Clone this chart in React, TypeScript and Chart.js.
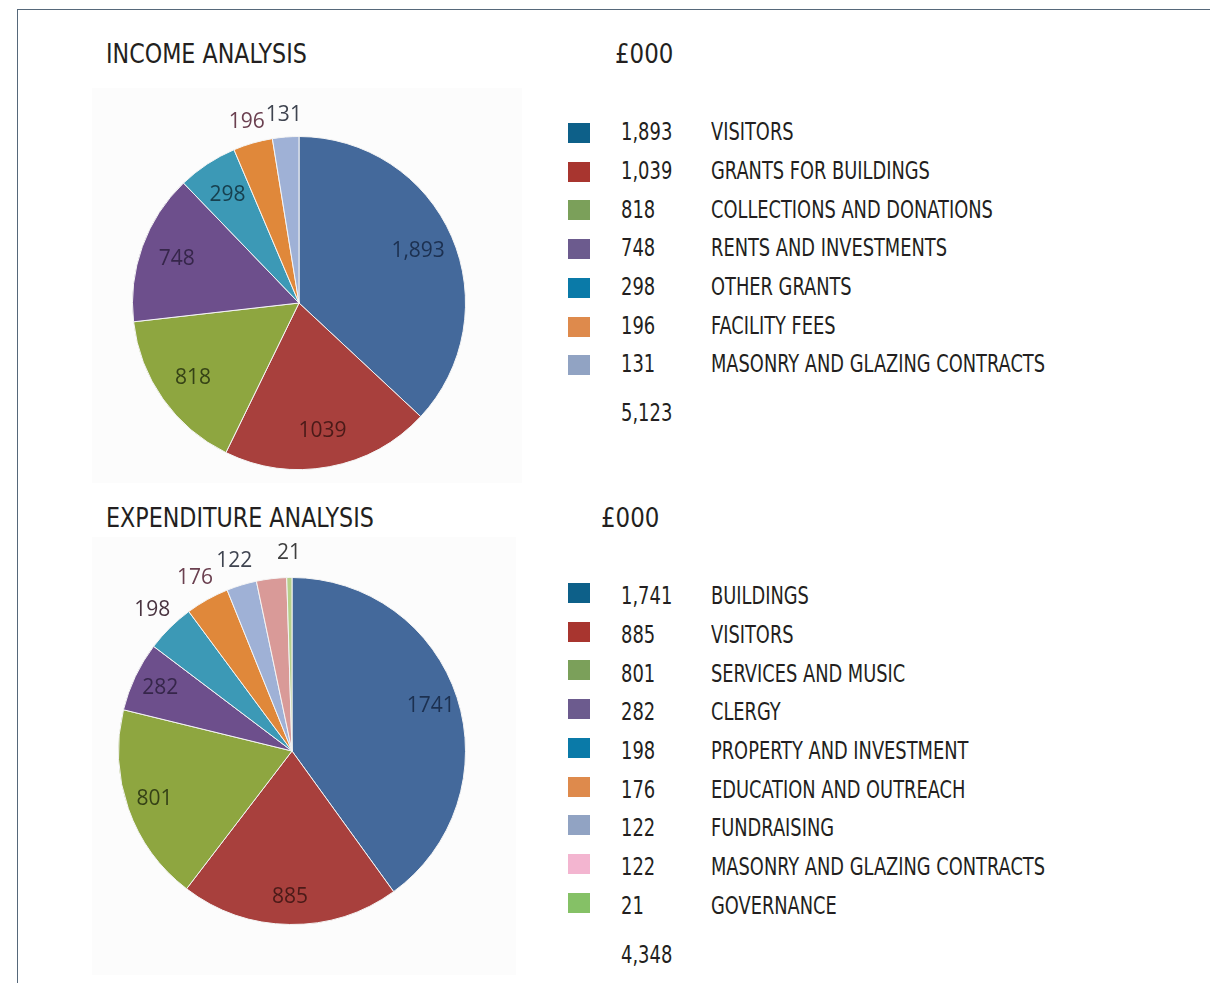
import React, { useEffect, useRef } from "react";
import { Chart, registerables } from "chart.js";

Chart.register(...registerables);

// ---------- DATA ----------
const incomeCategories = [
  "VISITORS",
  "GRANTS FOR BUILDINGS",
  "COLLECTIONS AND DONATIONS",
  "RENTS AND INVESTMENTS",
  "OTHER GRANTS",
  "FACILITY FEES",
  "MASONRY AND GLAZING CONTRACTS",
];
const incomeValues = [1893, 1039, 818, 748, 298, 196, 131];
const incomeValueLabels = ["1,893", "1,039", "818", "748", "298", "196", "131"];
const incomePieLabels = ["1,893", "1039", "818", "748", "298", "196", "131"];
const incomeTotal = "5,123";

const expenditureCategories = [
  "BUILDINGS",
  "VISITORS",
  "SERVICES AND MUSIC",
  "CLERGY",
  "PROPERTY AND INVESTMENT",
  "EDUCATION AND OUTREACH",
  "FUNDRAISING",
  "MASONRY AND GLAZING CONTRACTS",
  "GOVERNANCE",
];
const expenditureValues = [1741, 885, 801, 282, 198, 176, 122, 122, 21];
const expenditureValueLabels = ["1,741", "885", "801", "282", "198", "176", "122", "122", "21"];
const expenditurePieLabels = ["1741", "885", "801", "282", "198", "176", "122", "", "21"];
const expenditureTotal = "4,348";

// ---------- STYLES ----------
const pieColors = [
  "#44699b",
  "#a8403d",
  "#8ea640",
  "#6d4f8c",
  "#3c99b6",
  "#e0883a",
  "#9fb1d6",
  "#d99a98",
  "#b6d08a",
];
const legendColors = [
  "#0d6089",
  "#a8352f",
  "#7ba05a",
  "#6c5b8e",
  "#0a7aa8",
  "#de8a4c",
  "#91a3c3",
  "#f3b5d0",
  "#85c166",
];
const insideLabelColors = ["#1c3050", "#4a1a18", "#354216", "#36264a", "#17404f", "#5a3a48", "#404858", "#404040", "#404040"];
const outsideLabelColor = ["#2a2a2a", "#2a2a2a", "#2a2a2a", "#2a2a2a", "#4a3440", "#6b4050", "#3f4450", "#3f4450", "#3f3f3f"];

const FONT = '"Liberation Sans Narrow", "Arial Narrow", "DejaVu Sans Condensed", "DejaVu Sans", sans-serif';
const TEXT = "#231f20";

function makeLabelPlugin(texts: string[], insideFactor: number, outsideOffset: number) {
  return {
    id: "pieLabels",
    afterDatasetsDraw(chart: any) {
      const ctx = chart.ctx;
      const meta = chart.getDatasetMeta(0);
      const data = chart.data.datasets[0].data as number[];
      const total = data.reduce((a, b) => a + b, 0);
      ctx.save();
      ctx.font = '21px "Open Sans", "Noto Sans", sans-serif';
      ctx.textAlign = "center";
      ctx.textBaseline = "middle";
      meta.data.forEach((arc: any, i: number) => {
        const t = texts[i];
        if (!t) return;
        const p = arc.getProps(["x", "y", "startAngle", "endAngle", "outerRadius"], true);
        const mid = (p.startAngle + p.endAngle) / 2;
        const frac = data[i] / total;
        const inside = frac >= 0.05;
        const r = inside ? p.outerRadius * insideFactor : p.outerRadius + outsideOffset;
        ctx.fillStyle = inside ? insideLabelColors[i] : outsideLabelColor[i];
        ctx.fillText(t, p.x + Math.cos(mid) * r, p.y + Math.sin(mid) * r);
      });
      ctx.restore();
    },
  };
}

function PieCanvas(props: {
  values: number[];
  labels: string[];
  pieLabels: string[];
  left: number;
  top: number;
  width: number;
  height: number;
  padding: { left: number; right: number; top: number; bottom: number };
  insideFactor: number;
  outsideOffset: number;
}) {
  const ref = useRef<HTMLCanvasElement | null>(null);
  useEffect(() => {
    if (!ref.current) return;
    const chart = new Chart(ref.current, {
      type: "pie",
      data: {
        labels: props.labels,
        datasets: [
          {
            data: props.values,
            backgroundColor: pieColors.slice(0, props.values.length),
            borderColor: "#f4f4f4",
            borderWidth: 1,
          },
        ],
      },
      options: {
        responsive: false,
        animation: false,
        layout: { padding: props.padding },
        plugins: {
          legend: { display: false },
          tooltip: { enabled: false },
          title: { display: false },
        },
      },
      plugins: [makeLabelPlugin(props.pieLabels, props.insideFactor, props.outsideOffset)],
    });
    return () => chart.destroy();
  }, []);
  return (
    <canvas
      ref={ref}
      width={props.width}
      height={props.height}
      style={{
        position: "absolute",
        left: props.left,
        top: props.top,
        width: props.width,
        height: props.height,
        background: "#fcfcfc",
      }}
    />
  );
}

function Txt(props: { x: number; cy: number; size: number; sx: number; children: any }) {
  return (
    <div
      style={{
        position: "absolute",
        left: props.x,
        top: props.cy - props.size * 0.49,
        fontSize: props.size,
        lineHeight: 1,
        fontFamily: FONT,
        color: TEXT,
        whiteSpace: "nowrap",
        transform: `scaleX(${props.sx})`,
        transformOrigin: "left center",
      }}
    >
      {props.children}
    </div>
  );
}

function Legend(props: {
  categories: string[];
  valueLabels: string[];
  total: string;
  firstY: number;
  step: number;
  totalY: number;
  squareShift: number;
}) {
  return (
    <>
      {props.categories.map((c, i) => {
        const cy = props.firstY + i * props.step;
        return (
          <React.Fragment key={c + i}>
            <div
              style={{
                position: "absolute",
                left: 568,
                top: cy - 10 + props.squareShift,
                width: 22,
                height: 20,
                background: legendColors[i],
              }}
            />
            <Txt x={621} cy={cy} size={24} sx={0.83}>
              {props.valueLabels[i]}
            </Txt>
            <Txt x={711} cy={cy} size={24} sx={0.825}>
              {c}
            </Txt>
          </React.Fragment>
        );
      })}
      <Txt x={621} cy={props.totalY} size={24} sx={0.83}>
        {props.total}
      </Txt>
    </>
  );
}

export default function App() {
  return (
    <div
      style={{
        position: "fixed",
        left: 0,
        top: 0,
        width: 1210,
        height: 983,
        overflow: "hidden",
        background: "#ffffff",
      }}
    >
      <div style={{ position: "absolute", left: 17, top: 9, width: 1193, height: 1, background: "#56687a" }} />
      <div style={{ position: "absolute", left: 17, top: 9, width: 1, height: 974, background: "#56687a" }} />

      <Txt x={106} cy={54} size={26} sx={0.95}>INCOME ANALYSIS</Txt>
      <Txt x={615} cy={54} size={26} sx={0.98}>£000</Txt>

      <PieCanvas
        values={incomeValues}
        labels={incomeCategories}
        pieLabels={incomePieLabels}
        left={92}
        top={88}
        width={430}
        height={395}
        padding={{ left: 40, right: 56, top: 48, bottom: 13 }}
        insideFactor={0.78}
        outsideOffset={22}
      />
      <Legend
        categories={incomeCategories}
        valueLabels={incomeValueLabels}
        total={incomeTotal}
        firstY={132}
        step={38.7}
        totalY={413}
        squareShift={1}
      />

      <Txt x={106} cy={518} size={26} sx={0.95}>EXPENDITURE ANALYSIS</Txt>
      <Txt x={601} cy={518} size={26} sx={0.98}>£000</Txt>

      <PieCanvas
        values={expenditureValues}
        labels={expenditureCategories}
        pieLabels={expenditurePieLabels}
        left={92}
        top={537}
        width={424}
        height={438}
        padding={{ left: 26, right: 50, top: 40, bottom: 50 }}
        insideFactor={0.84}
        outsideOffset={25}
      />
      <Legend
        categories={expenditureCategories}
        valueLabels={expenditureValueLabels}
        total={expenditureTotal}
        firstY={596}
        step={38.7}
        totalY={955}
        squareShift={-3}
      />
    </div>
  );
}
